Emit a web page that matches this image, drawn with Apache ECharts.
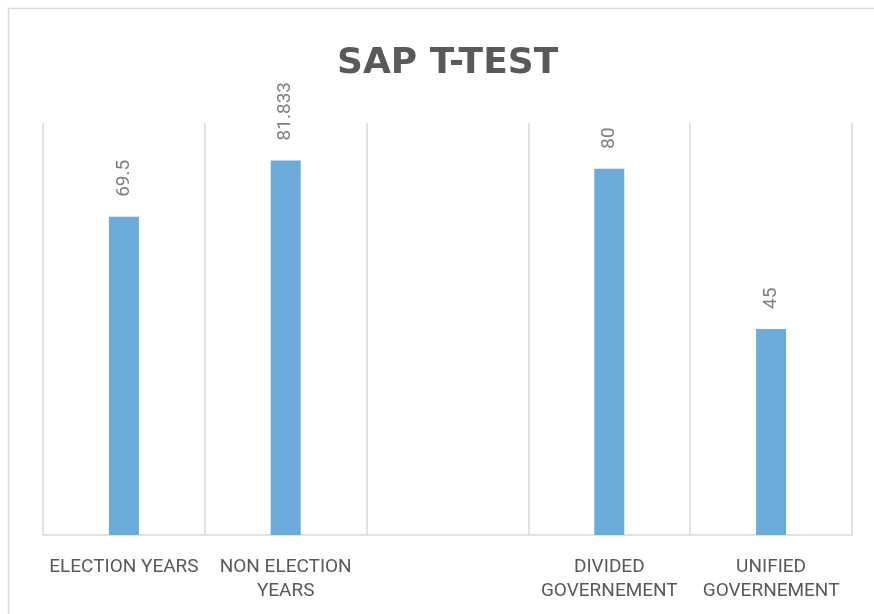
<!DOCTYPE html>
<html>
<head>
<meta charset="utf-8">
<script src="https://cdn.jsdelivr.net/npm/echarts@6/dist/echarts.min.js"></script>
<style>
html,body{margin:0;padding:0;background:#fff;}
#chart{width:874px;height:614px;}
</style>
</head>
<body>
<div id="chart"></div>
<script>
const titleText = 'SAP T-TEST';
const categories = ['ELECTION YEARS', 'NON ELECTION\nYEARS', '', 'DIVIDED\nGOVERNEMENT', 'UNIFIED\nGOVERNEMENT'];
const values = [69.5, 81.833, null, 80, 45];
const yMax = 90;

const chart = echarts.init(document.getElementById('chart'));
chart.setOption({
  animation: false,
  backgroundColor: '#ffffff',
  graphic: [{
    type: 'rect',
    shape: { x: 8.5, y: 8.5, width: 900, height: 700 },
    style: { fill: 'none', stroke: '#d9d9d9', lineWidth: 1.5 },
    silent: true
  }],
  title: {
    text: titleText,
    left: 332,
    top: 41,
    textStyle: {
      fontFamily: '"DejaVu Sans"',
      fontWeight: 'bold',
      fontSize: 36,
      color: '#595959'
    }
  },
  grid: { left: 43, right: 22, top: 123, bottom: 79, containLabel: false },
  xAxis: {
    type: 'category',
    data: categories,
    boundaryGap: true,
    axisLine: { show: true, lineStyle: { color: '#d9d9d9', width: 1.5 } },
    axisTick: { show: false },
    splitLine: { show: true, lineStyle: { color: '#d9d9d9', width: 1.5 } },
    axisLabel: {
      interval: 0,
      margin: 20,
      color: '#595959',
      fontSize: 19,
      lineHeight: 24,
      fontFamily: '"Liberation Sans Narrow", Roboto, sans-serif'
    }
  },
  yAxis: {
    type: 'value',
    min: 0,
    max: yMax,
    show: false,
    splitLine: { show: false }
  },
  series: [{
    type: 'bar',
    data: values,
    barWidth: 30,
    itemStyle: { color: '#6aabdc' },
    label: {
      show: true,
      position: 'top',
      rotate: 90,
      align: 'left',
      verticalAlign: 'middle',
      distance: 20,
      color: '#7f7f7f',
      fontSize: 19,
      fontFamily: '"Liberation Sans Narrow", Roboto, sans-serif'
    }
  }]
});
</script>
</body>
</html>
